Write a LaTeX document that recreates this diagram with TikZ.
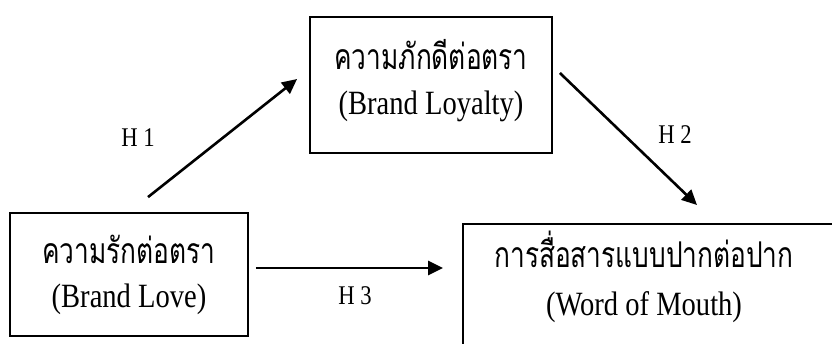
\documentclass[tikz,border=0pt]{standalone}
\usepackage{fontspec}
\setmainfont[FakeStretch=0.84]{Liberation Serif}
\newfontfamily\thaifont[Script=Thai,FakeStretch=0.74]{Loma}
\usetikzlibrary{positioning,arrows.meta,calc}

\begin{document}
\begin{tikzpicture}[
  x=1pt, y=1pt,
  >={Triangle[length=15pt,width=14pt]},
  frame/.style={draw=black, line width=1.8pt, inner sep=0pt},
  thline/.style={anchor=base, inner sep=0pt, font=\thaifont\fontsize{35.5}{35.5}\selectfont},
  enline/.style={anchor=base, inner sep=0pt, font=\fontsize{34}{34}\selectfont},
  hlabel/.style={inner sep=0pt, font=\fontsize{27}{27}\selectfont},
  hyp/.style={->, line width=2.6pt},
]
\path[use as bounding box, clip] (0,0) rectangle (832,343);

% ---------------- boxes
\node[frame, minimum width=242pt, minimum height=136pt] (loyal) at (431,258) {};
\node[frame, minimum width=238pt, minimum height=123pt] (love) at (129,68.5) {};
\node[frame, minimum width=420pt, minimum height=150pt, anchor=north west] (wom) at (462,120) {};

% ---------------- box texts
\node[thline] (loyalth) at ([yshift=15pt]loyal.center) {ความภักดีต่อตรา};
\node[enline] (loyalen) at ([yshift=-30pt]loyal.center) {(Brand Loyalty)};
\node[thline] (loveth) at ([yshift=11.5pt]love.center) {ความรักต่อตรา};
\node[enline] (loveen) at ([yshift=-32.5pt]love.center) {(Brand Love)};
\node[thline] (womth) at ([xshift=182pt,yshift=-44pt]wom.north west) {การสื่อสารแบบปากต่อปาก};
\node[enline] (women) at ([xshift=182pt,yshift=-92pt]wom.north west) {(Word of Mouth)};

% ---------------- hypotheses
\draw[hyp] ([xshift=19pt,yshift=15pt]love.north) -- ([xshift=-12pt,yshift=6pt]loyal.west);
\draw[hyp] ([xshift=7pt,yshift=12pt]loyal.east) -- ([xshift=235pt,yshift=18pt]wom.north west);
\draw[hyp] ([xshift=7pt,yshift=6.5pt]love.east) -- ([xshift=-19pt,yshift=-45pt]wom.north west);

\node[hlabel] (h1) at (138,205) {H 1};
\node[hlabel] (h2) at (675,208) {H 2};
\node[hlabel] (h3) at (355,47) {H 3};

\end{tikzpicture}
\end{document}
